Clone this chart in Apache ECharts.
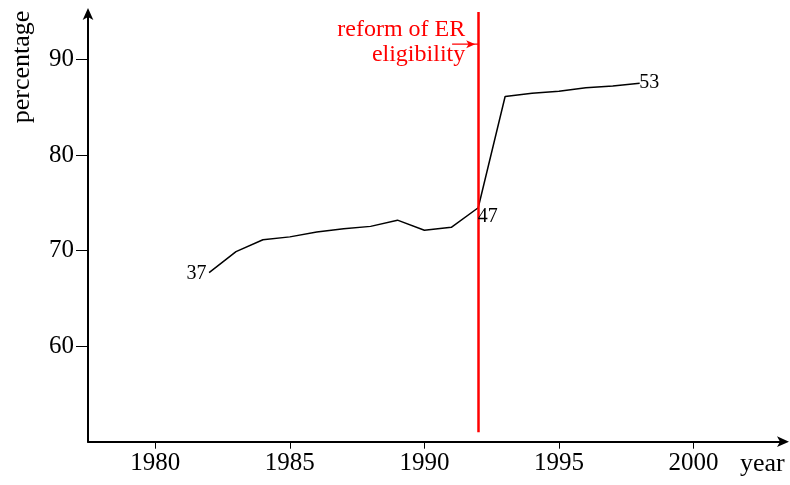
<!DOCTYPE html>
<html>
<head>
<meta charset="utf-8">
<script src="https://cdn.jsdelivr.net/npm/echarts@6/dist/echarts.min.js"></script>
<style>html,body{margin:0;padding:0;background:#fff}#c{width:790px;height:485px}</style>
</head>
<body>
<div id="c"></div>
<script>
var years = [1982,1983,1984,1985,1986,1987,1988,1989,1990,1991,1992,1993,1994,1995,1996,1997,1998];
var values = [67.7,69.9,71.15,71.45,71.95,72.3,72.55,73.2,72.15,72.45,74.5,86.15,86.5,86.7,87.07,87.25,87.55];
var labelYears = [1982, 1992, 1998];
var labelTexts = ['37', '47', '53'];
var xTicks = [1980,1985,1990,1995,2000];
var yTicks = [60,70,80,90];
var reformYear = 1992;
var reformText = 'reform of ER\neligibility';

var FONT = 'Liberation Serif';
var chart = echarts.init(document.getElementById('c'), null, {renderer:'canvas'});

var lineData = years.map(function(y,i){ return [y, values[i]]; });
var labelData = labelYears.map(function(y,k){
  var i = years.indexOf(y);
  var pos = (k === 0) ? 'left' : 'right';
  var off = (k === 1) ? [-3, 9] : (k === 0 ? [0, 1] : [-3, 0]);
  return {value:[y, values[i]], label:{show:true, formatter:labelTexts[k], position:pos, distance:2, offset:off,
    fontFamily:FONT, fontSize:20, color:'#000', opacity:1}};
});

chart.setOption({
  animation:false,
  backgroundColor:'#fff',
  grid:{left:88, right:5, top:12, bottom:43.3, containLabel:false},
  xAxis:{
    type:'value', min:1977.5, max:2003.4,
    splitLine:{show:false},
    axisLine:{show:true, onZero:false, lineStyle:{color:'#000', width:2}, symbol:['none','arrow'], symbolSize:[8,12], symbolOffset:[0,4]},
    axisTick:{show:true, length:7, inside:false, customValues:xTicks, lineStyle:{color:'#000', width:1}},
    axisLabel:{show:true, customValues:xTicks, margin:9, fontFamily:FONT, fontSize:25, color:'#000',
      formatter:function(v){ return String(v); }}
  },
  yAxis:{
    type:'value', min:50, max:95,
    splitLine:{show:false},
    axisLine:{show:true, onZero:false, lineStyle:{color:'#000', width:2}, symbol:['none','arrow'], symbolSize:[8,12], symbolOffset:[0,4]},
    axisTick:{show:true, length:12, inside:false, customValues:yTicks, lineStyle:{color:'#000', width:1}},
    axisLabel:{show:true, customValues:yTicks, margin:14, fontFamily:FONT, fontSize:25, color:'#000'}
  },
  series:[{
    type:'line', data:lineData, symbol:'none', showSymbol:false,
    lineStyle:{color:'#000', width:1.5},
    z:3,
    markLine:{
      silent:true, animation:false, symbol:['none','none'],
      label:{show:false},
      lineStyle:{color:'#ff0000', width:2.5, type:'solid'},
      data:[
        [{coord:[reformYear, 51.0]}, {coord:[reformYear, 95]}]
      ]
    }
  },{
    type:'line', data:[[reformYear-0.97, 91.63],[reformYear, 91.63]], symbol:'none', showSymbol:false,
    lineStyle:{color:'#ff0000', width:1.2}, z:4,
    markPoint:{silent:true, animation:false, symbol:'arrow', symbolSize:[6,9], symbolRotate:-90, symbolOffset:[-3,0],
      itemStyle:{color:'#ff0000'}, label:{show:false},
      data:[{coord:[reformYear, 91.63]}]}
  },{
    type:'scatter', data:labelData, symbol:'circle', symbolSize:1,
    itemStyle:{color:'#000', opacity:0}, z:5, silent:true,
    emphasis:{disabled:true}
  }]
});

var p = chart.convertToPixel({gridIndex:0}, [reformYear, 95]);
chart.setOption({
  graphic:[
    {type:'text', x:p[0]-13, y:p[1]+5, style:{text:reformText, fill:'#ff0000', font:'24px "Liberation Serif"', align:'right', verticalAlign:'top', lineHeight:25}},
    {type:'text', x:740, y:464, style:{text:'year', fill:'#000', font:'26px "Liberation Serif"', align:'left', verticalAlign:'middle'}},
    {type:'text', x:22, y:67, rotation:Math.PI/2, style:{text:'percentage', fill:'#000', font:'26px "Liberation Serif"', align:'center', verticalAlign:'middle'}}
  ]
});
</script>
</body>
</html>
